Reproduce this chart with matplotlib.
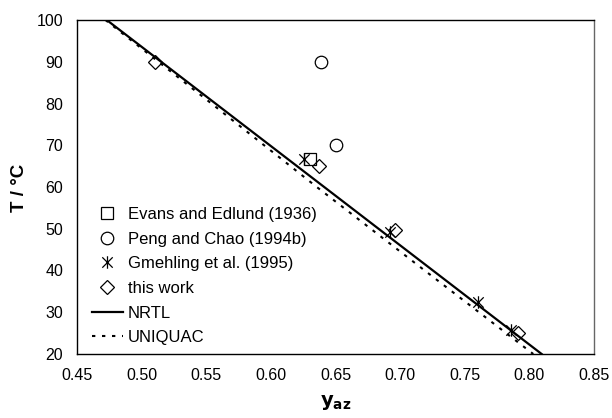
import matplotlib
matplotlib.use("Agg")
import matplotlib.pyplot as plt
from matplotlib.path import Path

plt.rcParams['font.family'] = ['Liberation Sans', 'DejaVu Sans']

# Data
evans_y = [0.630]
evans_T = [66.8]
peng_y = [0.639, 0.650]
peng_T = [90.0, 70.0]
gmeh_y = [0.626, 0.692, 0.760, 0.786]
gmeh_T = [66.8, 49.3, 32.5, 25.7]
this_y = [0.510, 0.637, 0.696, 0.791]
this_T = [90.0, 65.0, 49.8, 25.0]
nrtl_y = [0.473, 0.8095]
nrtl_T = [100.0, 20.0]
uniq_y = [0.472, 0.554, 0.6355, 0.719, 0.803]
uniq_T = [100.0, 80.0, 60.0, 40.0, 20.0]

xticks = [0.45, 0.50, 0.55, 0.60, 0.65, 0.70, 0.75, 0.80, 0.85]
yticks = [20, 30, 40, 50, 60, 70, 80, 90, 100]

ast = Path([(-1, -1), (1, 1), (-1, 1), (1, -1), (0, -1.2), (0, 1.2)],
           [Path.MOVETO, Path.LINETO, Path.MOVETO, Path.LINETO, Path.MOVETO, Path.LINETO])

fig = plt.figure(figsize=(6.12, 4.18), dpi=100)
ax = fig.add_axes([77/612, 1 - 354/418, 517/612, 334/418])

ms = 8
ax.plot(evans_y, evans_T, ls='none', marker='s', ms=ms, mfc='none', mec='black', mew=0.9,
        label='Evans and Edlund (1936)')
ax.plot(peng_y, peng_T, ls='none', marker='o', ms=ms+1, mfc='none', mec='black', mew=0.9,
        label='Peng and Chao (1994b)')
ax.plot(gmeh_y, gmeh_T, ls='none', marker=ast, ms=ms+1, mfc='none', mec='black', mew=0.9,
        label='Gmehling et al. (1995)')
ax.plot(this_y, this_T, ls='none', marker='D', ms=ms-0.5, mfc='none', mec='black', mew=0.9,
        label='this work')
ax.plot(nrtl_y, nrtl_T, color='black', lw=1.6, label='NRTL')
ax.plot(uniq_y, uniq_T, color='black', lw=1.5, ls=(0, (1.6, 3.2)), label='UNIQUAC')

ax.set_xlim(0.45, 0.85)
ax.set_ylim(20, 100)
ax.set_xticks(xticks)
ax.set_xticklabels([f"{v:.2f}" for v in xticks])
ax.set_yticks(yticks)
ax.tick_params(length=0, labelsize=11.5)
ax.tick_params(axis='y', pad=10)
ax.tick_params(axis='x', pad=10)
for s in ax.spines.values():
    s.set_linewidth(1.0)
ax.spines['right'].set_color('#666666')

fig.text(19.5/612, 1 - 188/418, 'T / °C', fontsize=13.5, fontweight='bold',
         rotation=90, ha='center', va='center')
fig.text(336/612, 1 - 403/418, r'$\mathbf{y}_{\mathbf{az}}$', fontsize=14,
         ha='center', va='center')

leg = ax.legend(loc='lower left', bbox_to_anchor=(0.016, 0.006), frameon=False, fontsize=12,
                handlelength=1.86, handletextpad=0.3, labelspacing=0.58, borderaxespad=0.0)

fig.savefig('out.png', dpi=100)
